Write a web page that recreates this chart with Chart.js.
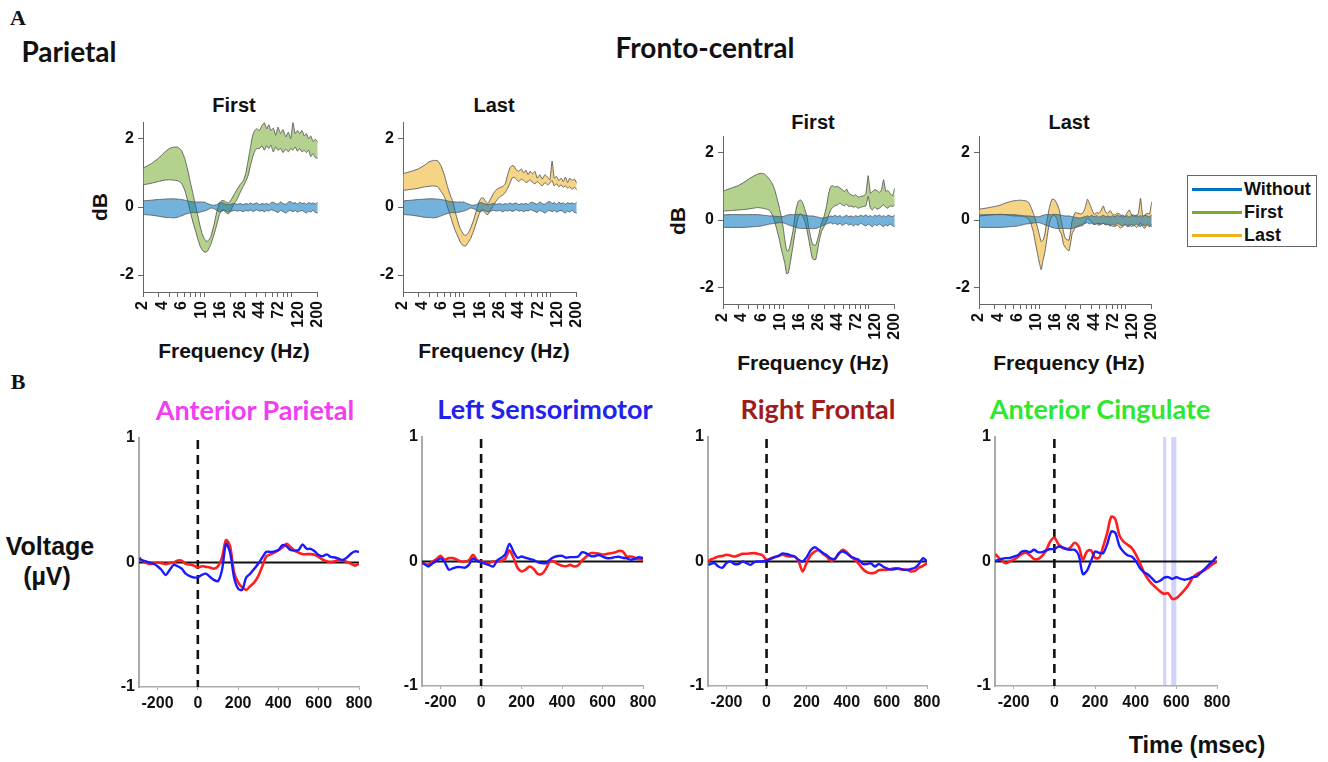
<!DOCTYPE html>
<html><head><meta charset="utf-8">
<script src="https://cdn.jsdelivr.net/npm/chart.js@4/dist/chart.umd.min.js"></script>
<style>
body{margin:0;background:#fff;}
#fig{position:relative;width:1328px;height:762px;overflow:hidden;background:#fff;font-family:'Liberation Sans',Arial,sans-serif;}
.t{position:absolute;white-space:nowrap;font-weight:bold;color:#111;transform:translate(-50%,-50%);line-height:1;}
.cal{font-family:Lato,'Open Sans',sans-serif;}
.rot{transform:translate(-50%,-50%) rotate(-90deg);}
#legend{position:absolute;left:1187px;top:175px;width:130px;height:72px;border:1px solid #666;background:#fff;box-sizing:border-box;}
.lg{position:absolute;left:4px;height:0;width:50px;border-top:3px solid;}
.lt{position:absolute;left:56px;font-weight:bold;font-size:18px;line-height:1;color:#111;}
</style></head>
<body><div id="fig">
<div class="t" style="left:18px;top:18px;font-family:'Liberation Serif',serif;font-size:22px;">A</div>
<div class="t cal" style="left:69px;top:51px;font-size:28px;">Parietal</div>
<div class="t cal" style="left:705px;top:47px;font-size:28px;">Fronto-central</div>
<div class="t" style="left:18px;top:382px;font-family:'Liberation Serif',serif;font-size:22px;">B</div>

<div class="t" style="left:234px;top:105px;font-size:20px;">First</div>
<div class="t" style="left:494px;top:105px;font-size:20px;">Last</div>
<div class="t" style="left:813px;top:122px;font-size:20px;">First</div>
<div class="t" style="left:1069px;top:122px;font-size:20px;">Last</div>
<div class="t rot" style="left:99px;top:207px;font-size:21px;">dB</div>
<div class="t rot" style="left:677px;top:221px;font-size:21px;">dB</div>
<div class="t" style="left:234px;top:350px;font-size:21px;">Frequency (Hz)</div>
<div class="t" style="left:494px;top:350px;font-size:21px;">Frequency (Hz)</div>
<div class="t" style="left:813px;top:362px;font-size:21px;">Frequency (Hz)</div>
<div class="t" style="left:1069px;top:362px;font-size:21px;">Frequency (Hz)</div>

<div id="legend">
  <div class="lg" style="top:12px;border-color:#0072BD;"></div><div class="lt" style="top:4px;">Without</div>
  <div class="lg" style="top:35px;border-color:#77AC30;"></div><div class="lt" style="top:27px;">First</div>
  <div class="lg" style="top:58px;border-color:#EDB120;"></div><div class="lt" style="top:50px;">Last</div>
</div>

<div class="t cal" style="left:255px;top:409px;font-size:27px;color:#f03ef0;">Anterior Parietal</div>
<div class="t cal" style="left:545px;top:408px;font-size:27px;color:#2222ee;">Left Sensorimotor</div>
<div class="t cal" style="left:818px;top:408px;font-size:27px;color:#a01c1c;">Right Frontal</div>
<div class="t cal" style="left:1100px;top:408px;font-size:27px;color:#2ee82e;">Anterior Cingulate</div>
<div class="t" style="left:50px;top:546px;font-size:25px;">Voltage</div>
<div class="t" style="left:47px;top:576px;font-size:25px;">(&micro;V)</div>
<div class="t" style="left:1197px;top:746px;font-size:23.5px;">Time (msec)</div>
</div>
<script>
// ---------- DATA ----------
const freqHz = [2, 2.5, 3, 3.5, 4, 4.5, 5, 5.5, 6, 6.5, 7, 7.5, 8, 8.5, 9, 9.5, 10, 10.5, 11, 11.5, 12, 13, 14, 15, 16, 17, 18, 19, 20, 22, 24, 26, 28, 30, 32, 34, 36, 38, 40, 43, 46, 49, 52, 55, 58, 62, 66, 70, 75, 80, 86, 92, 98, 104, 110, 117, 124, 132, 140, 148, 157, 166, 176, 188, 200];
const freqTickLabels = ['2','4','6','10','16','26','44','72','120','200'];
const freqMinorMarks = [3,4,5,6,7,8,9,10,20,30,40,50,60,70,80,90,100];
const dbTicks = [-2, 0, 2];

const parWithoutUpper = [0.18,0.20,0.22,0.23,0.24,0.24,0.23,0.22,0.20,0.18, 0.16,0.15,0.15,0.14,0.15,0.14,0.15,0.12,0.10,0.08, 0.06,0.05,0.07,0.12,0.13,0.10,0.08,0.07,0.08,0.10, 0.08,0.10,0.07,0.10,0.08,0.12,0.08,0.10,0.12,0.07, 0.10,0.08,0.11,0.07,0.12,0.14,0.10,0.08,0.15,0.10, 0.08,0.14,0.16,0.10,0.13,0.08,0.14,0.10,0.12,0.08, 0.13,0.10,0.12,0.09,0.14];
const parWithoutLower = [-0.22,-0.24,-0.27,-0.30,-0.31,-0.32,-0.30,-0.26,-0.22,-0.19, -0.17,-0.16,-0.17,-0.16,-0.15,-0.13,-0.12,-0.10,-0.08,-0.05, -0.03,-0.05,-0.10,-0.14,-0.12,-0.10,-0.12,-0.15,-0.13,-0.10, -0.12,-0.10,-0.14,-0.10,-0.12,-0.09,-0.13,-0.11,-0.08,-0.12, -0.10,-0.14,-0.10,-0.12,-0.08,-0.10,-0.13,-0.16,-0.10,-0.13, -0.18,-0.12,-0.10,-0.14,-0.10,-0.15,-0.12,-0.10,-0.14,-0.18, -0.12,-0.15,-0.10,-0.16,-0.18];
const parFirstUpper = [1.14,1.28,1.43,1.60,1.72,1.76,1.76,1.67,1.43,1.09, 0.70,0.36,0.02,-0.27,-0.56,-0.79,-0.92,-1.00,-1.00,-0.95, -0.85,-0.51,-0.13,0.12,0.19,0.18,0.14,0.12,0.18,0.36, 0.53,0.67,0.77,0.99,1.38,1.77,2.11,2.25,2.30,2.25, 2.40,2.48,2.30,2.42,2.25,2.32,2.11,2.35,2.16,2.28, 2.06,2.20,2.01,2.48,2.16,2.25,2.16,2.25,2.09,2.16, 2.01,2.09,1.93,1.99,1.91];
const parFirstLower = [0.65,0.70,0.75,0.79,0.80,0.79,0.77,0.70,0.50,0.17, -0.17,-0.47,-0.71,-0.95,-1.15,-1.26,-1.32,-1.33,-1.29,-1.19, -1.08,-0.81,-0.51,-0.22,-0.08,-0.11,-0.18,-0.20,-0.13,0.09, 0.24,0.44,0.60,0.75,0.94,1.23,1.48,1.64,1.72,1.72, 1.80,1.67,1.80,1.72,1.82,1.62,1.77,1.67,1.72,1.60, 1.70,1.62,1.72,1.67,1.77,1.64,1.72,1.62,1.67,1.60, 1.67,1.48,1.57,1.45,1.43];
const parLastUpper = [0.98,1.05,1.12,1.22,1.33,1.37,1.36,1.20,0.93,0.60, 0.35,0.15,-0.15,-0.40,-0.60,-0.72,-0.82,-0.83,-0.80,-0.72, -0.62,-0.38,-0.10,0.15,0.27,0.25,0.15,0.10,0.20,0.40, 0.52,0.57,0.60,0.68,0.95,1.15,1.22,1.20,1.10,1.05, 1.12,1.00,1.08,0.95,1.05,0.98,1.05,0.85,0.95,0.82, 0.95,0.88,0.80,1.35,0.85,0.90,0.78,0.85,0.75,0.88, 0.72,0.85,0.78,0.82,0.70];
const parLastLower = [0.49,0.52,0.55,0.59,0.61,0.62,0.60,0.45,0.30,0.00, -0.25,-0.50,-0.70,-0.85,-1.00,-1.10,-1.14,-1.15,-1.08,-1.00, -0.93,-0.70,-0.45,-0.22,-0.08,-0.12,-0.20,-0.22,-0.12,0.05, 0.20,0.30,0.35,0.42,0.55,0.70,0.85,0.88,0.82,0.75, 0.82,0.78,0.72,0.75,0.80,0.72,0.68,0.75,0.68,0.62, 0.72,0.65,0.70,0.78,0.62,0.68,0.60,0.65,0.58,0.62, 0.55,0.60,0.52,0.58,0.50];

const fcWithoutUpper = [0.15,0.16,0.16,0.16,0.16,0.16,0.16,0.15,0.14,0.13, 0.12,0.12,0.11,0.10,0.10,0.10,0.10,0.12,0.14,0.15, 0.16,0.16,0.16,0.17,0.16,0.15,0.14,0.13,0.12,0.12, 0.10,0.08,0.06,0.06,0.08,0.10,0.12,0.10,0.14,0.10, 0.13,0.08,0.11,0.14,0.10,0.12,0.09,0.13,0.10,0.14, 0.11,0.15,0.10,0.13,0.09,0.14,0.11,0.15,0.10,0.13, 0.09,0.14,0.12,0.10,0.15];
const fcWithoutLower = [-0.22,-0.22,-0.22,-0.22,-0.21,-0.20,-0.19,-0.18,-0.16,-0.14, -0.12,-0.11,-0.10,-0.09,-0.08,-0.08,-0.08,-0.10,-0.12,-0.14, -0.16,-0.19,-0.22,-0.24,-0.25,-0.25,-0.25,-0.25,-0.25,-0.26, -0.25,-0.22,-0.18,-0.15,-0.12,-0.10,-0.08,-0.12,-0.09,-0.14, -0.10,-0.16,-0.12,-0.10,-0.15,-0.12,-0.18,-0.13,-0.16,-0.10, -0.14,-0.18,-0.12,-0.16,-0.20,-0.13,-0.17,-0.12,-0.16,-0.20, -0.14,-0.18,-0.12,-0.17,-0.20];
const fcFirstUpper = [0.86,0.95,1.02,1.12,1.22,1.30,1.36,1.39,1.38,1.30, 1.20,1.08,0.90,0.65,0.40,0.12,-0.20,-0.60,-0.90,-0.92, -0.78,-0.35,0.25,0.55,0.60,0.50,0.30,0.10,-0.25,-0.72, -0.75,-0.45,-0.10,0.10,0.40,0.80,1.00,1.02,0.98,1.00, 0.95,0.90,0.85,0.92,0.80,0.75,0.72,0.75,0.68,0.70, 0.72,0.78,1.32,0.80,0.85,0.90,0.88,0.82,0.90,1.20, 0.85,0.88,0.80,0.72,0.95];
const fcFirstLower = [0.27,0.28,0.30,0.31,0.33,0.35,0.37,0.36,0.34,0.32, 0.28,0.15,-0.05,-0.30,-0.55,-0.85,-1.07,-1.30,-1.60,-1.58, -1.35,-0.80,-0.28,0.08,0.18,0.10,-0.05,-0.30,-0.60,-1.15, -1.18,-0.70,-0.35,-0.20,-0.05,0.15,0.30,0.38,0.42,0.45, 0.50,0.45,0.42,0.48,0.40,0.42,0.38,0.40,0.35,0.38, 0.40,0.42,0.70,0.35,0.30,0.38,0.32,0.35,0.40,0.45, 0.38,0.35,0.42,0.40,0.45];
const fcLastUpper = [0.32,0.36,0.40,0.44,0.50,0.54,0.57,0.58,0.59,0.58, 0.57,0.52,0.38,0.20,0.00,-0.22,-0.45,-0.65,-0.60,-0.45, -0.15,0.35,0.62,0.60,0.48,0.30,-0.05,-0.35,-0.55,-0.60, 0.00,0.22,0.20,0.18,0.22,0.38,0.62,0.50,0.35,0.17, 0.22,0.20,0.30,0.42,0.25,0.20,0.28,0.18,0.15,0.20, 0.17,0.08,0.12,0.22,0.30,0.15,0.15,0.10,0.20,0.65, 0.12,0.15,0.20,0.18,0.55];
const fcLastLower = [0.12,0.14,0.16,0.17,0.16,0.14,0.12,0.12,0.11,0.11, 0.08,0.02,-0.12,-0.35,-0.68,-1.00,-1.28,-1.48,-1.20,-1.00, -0.70,-0.10,0.12,0.15,0.02,-0.30,-0.42,-0.72,-0.82,-0.92, -0.40,-0.23,-0.20,-0.18,-0.16,-0.05,0.05,0.00,-0.05,-0.13, -0.12,-0.10,-0.12,-0.10,-0.12,-0.14,-0.15,-0.18,-0.20,-0.15, -0.24,-0.20,-0.14,-0.20,-0.12,-0.20,-0.15,-0.22,-0.18,-0.08, -0.20,-0.25,-0.15,-0.20,-0.12];

const timeMs = [-290,-280,-260,-240,-220,-200,-180,-160,-140,-120,-100,-80,-60,-40,-20,0,20,40,60,80,100,120,140,160,180,200,220,240,260,280,300,320,340,360,380,400,420,440,460,480,500,520,540,560,580,600,620,640,660,680,700,720,740,760,780,800];
const timeTicks = [-200, 0, 200, 400, 600, 800];
const voltTicks = [-1, 0, 1];
const stimOnsetMs = 0;
const baselineUv = 0;

const apBlue = [0.03,0.02,0.01,0.0,-0.01,-0.03,-0.06,-0.1,-0.06,-0.02, -0.03,-0.05,-0.09,-0.11,-0.12,-0.12,-0.1,-0.09,-0.115,-0.14, -0.15,-0.06,0.15,0.08,-0.12,-0.21,-0.22,-0.12,-0.09,-0.05, -0.01,0.04,0.086,0.085,0.09,0.1,0.14,0.13,0.1,0.095, 0.1,0.145,0.11,0.11,0.09,0.06,0.05,0.065,0.045,0.04, 0.03,0.02,0.04,0.07,0.09,0.085];
const apRed = [0.04,0.02,0.0,-0.012,-0.01,0.0,-0.005,-0.013,-0.005,0.0, 0.015,0.015,-0.01,-0.015,-0.025,-0.04,-0.03,-0.035,-0.04,-0.05, -0.03,0.04,0.18,0.13,-0.08,-0.16,-0.2,-0.22,-0.19,-0.16, -0.11,-0.03,0.05,0.065,0.08,0.1,0.12,0.15,0.125,0.095, 0.08,0.067,0.067,0.067,0.062,0.045,0.022,0.01,0.005,0.01, 0.02,0.015,0.005,-0.01,-0.025,-0.01];
const lsBlue = [-0.013,-0.02,-0.04,-0.015,0.005,0.025,-0.005,-0.065,-0.056,-0.045, -0.045,-0.05,-0.025,0.025,0.005,-0.005,-0.018,-0.03,-0.04,0.01, 0.03,0.06,0.142,0.08,0.03,0.04,0.03,0.02,0.012,-0.005, -0.013,-0.013,0.015,0.035,0.044,0.045,0.03,0.035,0.035,0.04, 0.075,0.065,0.045,0.042,0.052,0.04,0.028,0.027,0.035,0.038, 0.03,0.025,0.014,0.022,0.035,0.027];
const lsRed = [-0.013,-0.02,-0.025,0.0,0.02,0.045,0.015,0.027,0.027,0.015, 0.0,0.0,0.01,0.054,0.01,0.0,-0.01,-0.01,0.0,0.0, 0.005,0.025,0.09,0.03,-0.05,-0.08,-0.065,-0.04,-0.06,-0.1, -0.1,-0.06,0.0,0.0,-0.02,-0.035,-0.038,-0.027,-0.04,-0.03, 0.01,0.04,0.067,0.067,0.065,0.055,0.06,0.067,0.072,0.085, 0.08,0.04,0.04,0.03,0.02,0.013];
const rfBlue = [-0.027,-0.02,-0.013,-0.04,-0.05,-0.012,0.0,-0.02,-0.02,0.0, -0.013,-0.027,-0.005,0.0,0.0,0.008,0.02,0.035,0.045,0.065, 0.06,0.05,0.04,0.013,0.0,0.035,0.09,0.115,0.094,0.07, 0.05,0.025,0.02,0.067,0.08,0.065,0.04,0.025,0.013,-0.02, -0.02,-0.015,-0.04,-0.02,-0.04,-0.055,-0.065,-0.06,-0.055,-0.065, -0.067,-0.06,-0.05,-0.02,0.027,0.0];
const rfRed = [0.0,0.015,0.027,0.04,0.045,0.054,0.048,0.04,0.05,0.062, 0.062,0.065,0.067,0.06,0.05,0.013,0.025,0.035,0.045,0.054, 0.045,0.04,0.04,0.0,-0.08,-0.01,0.05,0.08,0.09,0.065, 0.04,0.005,0.02,0.06,0.094,0.075,0.04,0.015,-0.02,-0.06, -0.085,-0.094,-0.09,-0.07,-0.067,-0.067,-0.06,-0.055,-0.06,-0.065, -0.067,-0.08,-0.075,-0.05,-0.035,-0.013];
const acBlue = [0.005,0.01,0.02,0.027,0.028,0.04,0.05,0.08,0.085,0.075, 0.094,0.075,0.075,0.09,0.1,0.1,0.12,0.115,0.1,0.094, 0.094,0.05,-0.1,-0.075,0.0,0.08,0.07,0.067,0.14,0.24, 0.23,0.125,0.078,0.05,0.04,0.005,-0.05,-0.085,-0.105,-0.135, -0.165,-0.155,-0.13,-0.125,-0.14,-0.126,-0.138,-0.146,-0.14,-0.126, -0.12,-0.09,-0.06,-0.025,0.005,0.04];
const acRed = [0.06,0.04,0.01,-0.013,0.0,0.015,0.035,0.06,0.07,0.05, 0.02,0.02,0.045,0.09,0.16,0.19,0.14,0.11,0.1,0.115, 0.15,0.12,0.015,0.08,0.09,0.03,0.03,0.12,0.23,0.36, 0.34,0.21,0.16,0.135,0.11,0.06,-0.01,-0.085,-0.14,-0.18, -0.21,-0.24,-0.26,-0.255,-0.3,-0.295,-0.265,-0.23,-0.187,-0.13, -0.1,-0.085,-0.07,-0.045,-0.02,0.0];
const acSigStart = [535, 575];
const acSigEnd = [550, 600];

// ---------- DRAWING ----------
const FONT = "'Liberation Sans', Arial, sans-serif";
const fig = document.getElementById('fig');

function makeCanvas(area, pad) {
  const c = document.createElement('canvas');
  const w = area.r - area.l + pad.yw + pad.pr;
  const h = area.b - area.t + pad.pt + pad.xh;
  c.width = w; c.height = h;
  c.style.position = 'absolute';
  c.style.left = (area.l - pad.yw) + 'px';
  c.style.top = (area.t - pad.pt) + 'px';
  c.style.width = w + 'px'; c.style.height = h + 'px';
  fig.appendChild(c);
  return c;
}

function freqTickObjs() {
  const n = freqTickLabels.length;
  const lab = freqTickLabels.map((l, k) => ({value: 2 * Math.pow(100, k / (n - 1)), lbl: l, mk: (k === 0 || k === n - 1)}));
  const minor = freqMinorMarks.map(v => ({value: v, lbl: '', mk: true}));
  return lab.concat(minor).sort((a, b) => a.value - b.value);
}

function specChart(area, wU, wL, cU, cL, fillCol, condLabel) {
  const pad = {yw: 60, xh: 60, pr: 14, pt: 14};
  const c = makeCanvas(area, pad);
  const pts = arr => freqHz.map((f, i) => ({x: f, y: arr[i]}));
  const edge = '#5a5a5a';
  const base = {borderColor: edge, borderWidth: 0.9, pointRadius: 0, tension: 0.15};
  new Chart(c, {
    type: 'line',
    data: {datasets: [
      Object.assign({label: 'Without', data: pts(wL), fill: false}, base),
      Object.assign({label: 'Without', data: pts(wU), fill: '-1', backgroundColor: 'rgba(0,114,189,0.55)'}, base),
      Object.assign({label: condLabel, data: pts(cL), fill: false}, base),
      Object.assign({label: condLabel, data: pts(cU), fill: '-1', backgroundColor: fillCol}, base)
    ]},
    options: {
      responsive: false, animation: false, events: [],
      layout: {padding: {left: 0, right: pad.pr, top: pad.pt, bottom: 0}},
      plugins: {legend: {display: false}, tooltip: {enabled: false}, title: {display: false}},
      scales: {
        x: {type: 'logarithmic', min: 2, max: 200,
          afterFit: s => { s.height = pad.xh; },
          afterBuildTicks: s => { s.ticks = freqTickObjs(); },
          ticks: {autoSkip: false, minRotation: 90, maxRotation: 90, padding: 4, color: '#111',
            font: {family: FONT, size: 16, weight: 'bold'},
            callback: (v, i, t) => t[i].lbl},
          grid: {drawOnChartArea: false, drawTicks: true, tickLength: 5, tickWidth: 1,
            tickColor: ctx => (ctx.tick && ctx.tick.mk) ? '#666' : 'rgba(0,0,0,0)'},
          border: {display: true, color: '#666', width: 1}},
        y: {type: 'linear', min: -2.5, max: 2.5,
          afterFit: s => { s.width = pad.yw; },
          afterBuildTicks: s => { s.ticks = dbTicks.map(v => ({value: v})); },
          ticks: {padding: 4, color: '#111', font: {family: FONT, size: 16, weight: 'bold'}},
          grid: {drawOnChartArea: false, drawTicks: true, tickLength: 5, tickColor: '#666'},
          border: {display: true, color: '#666', width: 1}}
      }
    }
  });
}

function erpChart(area, blue, red, sigS, sigE) {
  const pad = {yw: 40, xh: 40, pr: 18, pt: 14};
  const c = makeCanvas(area, pad);
  const pts = arr => timeMs.map((t, i) => ({x: t, y: arr[i]}));
  const refs = {
    id: 'erpRefs',
    beforeDatasetsDraw(chart) {
      const {ctx, chartArea: a, scales: {x, y}} = chart;
      ctx.save();
      ctx.fillStyle = 'rgba(165,165,255,0.5)';
      sigS.forEach((s, i) => {
        const x0 = x.getPixelForValue(s), x1 = x.getPixelForValue(sigE[i]);
        ctx.fillRect(x0, a.top, x1 - x0, a.bottom - a.top);
      });
      const y0 = y.getPixelForValue(baselineUv);
      ctx.strokeStyle = '#111'; ctx.lineWidth = 2;
      ctx.beginPath(); ctx.moveTo(a.left, y0); ctx.lineTo(a.right, y0); ctx.stroke();
      const xs = x.getPixelForValue(stimOnsetMs);
      ctx.setLineDash([9, 6]); ctx.lineWidth = 2.6;
      ctx.beginPath(); ctx.moveTo(xs, a.top + 2); ctx.lineTo(xs, a.bottom); ctx.stroke();
      ctx.restore();
    }
  };
  new Chart(c, {
    type: 'line',
    data: {datasets: [
      {label: 'Without', data: pts(blue), borderColor: '#1a1aff', borderWidth: 2.4, pointRadius: 0, tension: 0.3, fill: false},
      {label: 'With', data: pts(red), borderColor: '#ff1e1e', borderWidth: 2.6, pointRadius: 0, tension: 0.3, fill: false}
    ]},
    options: {
      responsive: false, animation: false, events: [],
      layout: {padding: {left: 0, right: pad.pr, top: pad.pt, bottom: 0}},
      plugins: {legend: {display: false}, tooltip: {enabled: false}},
      scales: {
        x: {type: 'linear', min: -292, max: 800,
          afterFit: s => { s.height = pad.xh; },
          afterBuildTicks: s => { s.ticks = timeTicks.map(v => ({value: v})); },
          ticks: {padding: 4, color: '#111', maxRotation: 0, autoSkip: false, font: {family: FONT, size: 16, weight: 'bold'}},
          grid: {drawOnChartArea: false, drawTicks: true, tickLength: 3, tickColor: '#aaa'},
          border: {display: true, color: '#aaa', width: 1.5}},
        y: {type: 'linear', min: -1, max: 1,
          afterFit: s => { s.width = pad.yw; },
          afterBuildTicks: s => { s.ticks = voltTicks.map(v => ({value: v})); },
          ticks: {padding: 4, color: '#111', font: {family: FONT, size: 16, weight: 'bold'}},
          grid: {drawOnChartArea: false, drawTicks: false},
          border: {display: true, color: '#aaa', width: 2}}
      }
    },
    plugins: [refs]
  });
}

const greenFill = 'rgba(119,172,48,0.55)';
const orangeFill = 'rgba(237,177,32,0.55)';
specChart({l: 143, r: 327, t: 122, b: 292}, parWithoutUpper, parWithoutLower, parFirstUpper, parFirstLower, greenFill, 'First');
specChart({l: 403, r: 586, t: 122, b: 292}, parWithoutUpper, parWithoutLower, parLastUpper, parLastLower, orangeFill, 'Last');
specChart({l: 723, r: 904, t: 136, b: 304}, fcWithoutUpper, fcWithoutLower, fcFirstUpper, fcFirstLower, greenFill, 'First');
specChart({l: 979, r: 1161, t: 136, b: 304}, fcWithoutUpper, fcWithoutLower, fcLastUpper, fcLastLower, orangeFill, 'Last');

erpChart({l: 139, r: 359, t: 438, b: 687}, apBlue, apRed, [], []);
erpChart({l: 422, r: 643, t: 437, b: 686}, lsBlue, lsRed, [], []);
erpChart({l: 708, r: 927, t: 437, b: 686}, rfBlue, rfRed, [], []);
erpChart({l: 995, r: 1217, t: 437, b: 686}, acBlue, acRed, acSigStart, acSigEnd);
</script>
</body></html>
